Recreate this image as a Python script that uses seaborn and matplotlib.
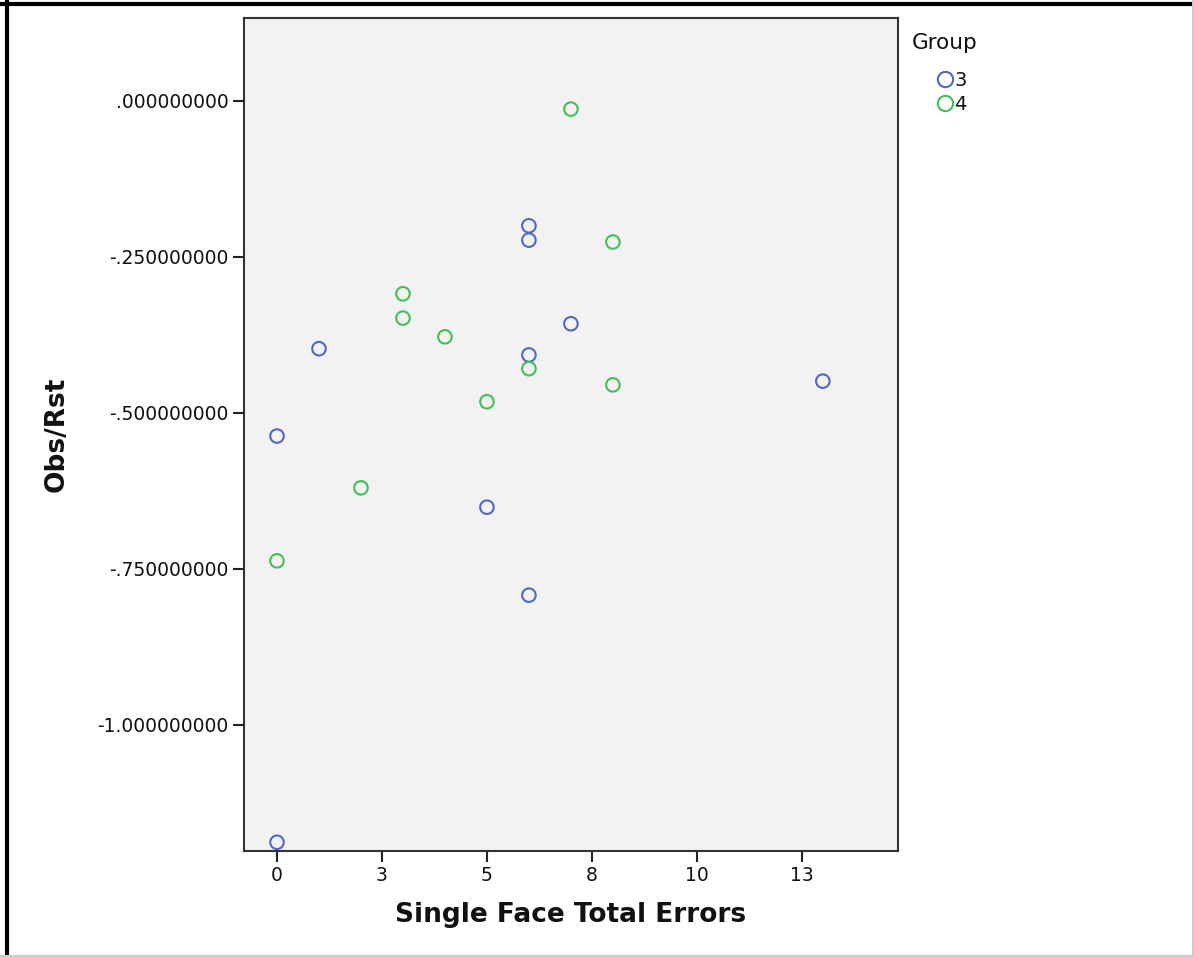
import pandas as pd
import seaborn as sns
import matplotlib

matplotlib.use('Agg')
import matplotlib.pyplot as plt
from matplotlib.lines import Line2D

# values
errors_g3 = [6, 6, 1, 7, 6, 13, 0, 5, 6, 0]
obs_g3 = [-0.200, -0.223, -0.397, -0.357, -0.407, -0.449, -0.537, -0.651, -0.792, -1.188]
errors_g4 = [7, 8, 3, 3, 4, 6, 8, 5, 2, 0]
obs_g4 = [-0.013, -0.226, -0.309, -0.348, -0.378, -0.429, -0.455, -0.482, -0.620, -0.737]

groups = ["3", "4"]
colors = {"3": "#5068c4", "4": "#40c055"}

x_ticks = [0, 2.5, 5, 7.5, 10, 12.5]
x_labels = ["0", "3", "5", "8", "10", "13"]
y_ticks = [0, -0.25, -0.5, -0.75, -1.0]
y_labels = [".000000000", "-.250000000", "-.500000000", "-.750000000", "-1.000000000"]

df = pd.DataFrame({
    "errors": errors_g3 + errors_g4,
    "obs": obs_g3 + obs_g4,
    "group": ["3"] * len(errors_g3) + ["4"] * len(errors_g4),
})

sns.set_style("white")
plt.rcParams['font.family'] = ['DejaVu Sans']

fig = plt.figure(figsize=(11.94, 9.57), dpi=100)
ax = fig.add_axes([244 / 1194, 1 - 851 / 957, (898 - 244) / 1194, (851 - 18) / 957])

sns.scatterplot(data=df, x="errors", y="obs", hue="group", palette=colors,
                s=95, linewidth=1.5, legend=False, ax=ax)
# hollow circles like the SPSS chart
for coll in ax.collections:
    fc = coll.get_facecolors()
    coll.set_edgecolors(fc)
    coll.set_facecolors("none")

ax.set_facecolor("#f2f2f2")
ax.set_xlim(-0.786, 14.79)
ax.set_ylim(-1.202, 0.133)
ax.set_xticks(x_ticks)
ax.set_xticklabels(x_labels)
ax.set_yticks(y_ticks)
ax.set_yticklabels(y_labels)
ax.tick_params(axis="both", direction="out", length=8, width=1.5, color="#222222",
               labelsize=13.5, pad=3, bottom=True, left=True, labelcolor="#111111")
for sp in ax.spines.values():
    sp.set_color("#333333")
    sp.set_linewidth(1.5)

ax.set_xlabel("Single Face Total Errors", fontsize=19, fontweight="bold", labelpad=12, color="#111111")
ax.set_ylabel("Obs/Rst", fontsize=19, fontweight="bold", labelpad=20, color="#111111")

fig.text(912 / 1194, 1 - 43 / 957, "Group", fontsize=15.5, va="center", ha="left", color="#111111")
handles = [Line2D([], [], marker="o", linestyle="none", markersize=11, markerfacecolor="none",
                  markeredgecolor=colors[g], markeredgewidth=1.5) for g in groups]
fig.legend(handles, groups, loc="upper left", bbox_to_anchor=(927 / 1194, 1 - 61 / 957),
           frameon=False, fontsize=14, handlelength=0.8, handletextpad=0.1,
           labelspacing=0.25, borderpad=0, labelcolor="#111111")

# screenshot frame
fig.add_artist(Line2D([7 / 1194, 7 / 1194], [0, 1], color="black", lw=3, transform=fig.transFigure))
fig.add_artist(Line2D([0, 1], [1 - 4 / 957, 1 - 4 / 957], color="black", lw=3, transform=fig.transFigure))
fig.add_artist(Line2D([1193 / 1194, 1193 / 1194], [0, 1], color="#cccccc", lw=1.5, transform=fig.transFigure))
fig.add_artist(Line2D([0, 1], [1 / 957, 1 / 957], color="#cccccc", lw=1.5, transform=fig.transFigure))

fig.savefig("out.png", dpi=100)
